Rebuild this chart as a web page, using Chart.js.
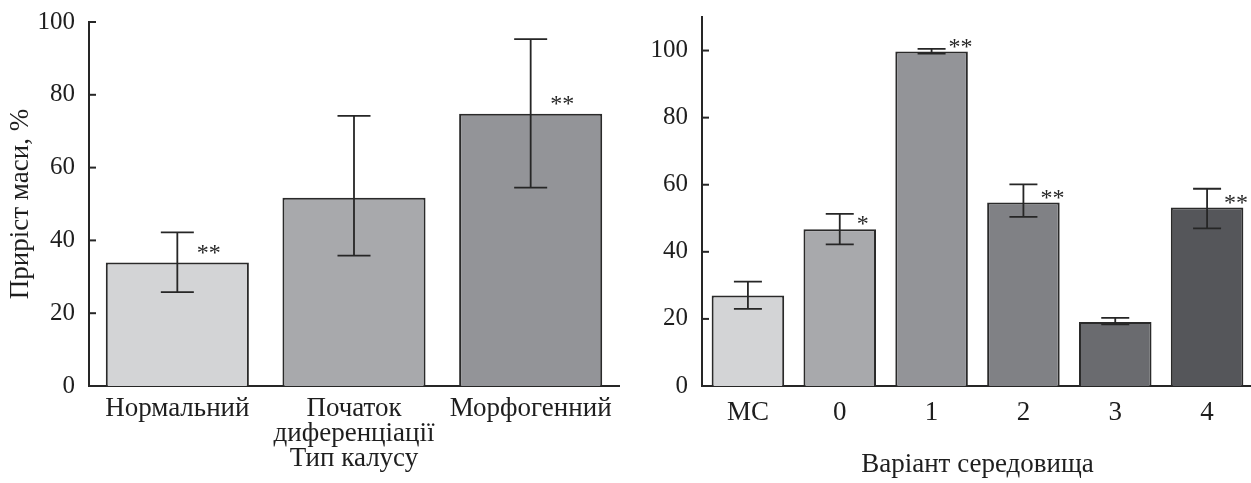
<!DOCTYPE html>
<html lang="uk">
<head>
<meta charset="utf-8">
<title>Приріст маси</title>
<script src="https://cdn.jsdelivr.net/npm/chart.js@4.4.1/dist/chart.umd.min.js"></script>
<style>
    html, body { margin: 0; padding: 0; background: #fff; overflow: hidden; }
    body { width: 1251px; height: 483px; position: relative; }
    .panel { position: absolute; top: 0; }
    #leftWrap { left: 0; width: 640px; height: 483px; }
    #rightWrap { left: 630px; width: 623px; height: 483px; }
</style>
</head>
<body>
<div class="panel" id="leftWrap"><canvas id="leftChart" width="640" height="483"></canvas></div>
<div class="panel" id="rightWrap"><canvas id="rightChart" width="623" height="483"></canvas></div>

<script>
// ================= DATA =================
// Left panel: callus type
const leftCategories = ['Нормальний', ['Початок', 'диференціації'], 'Морфогенний'];
const leftMeans = [33.9, 51.7, 74.8];
const leftErrLow = [25.8, 35.8, 54.5];
const leftErrHigh = [42.2, 74.2, 95.3];
const leftSig = ['**', '', '**'];
const leftColors = ['#d3d4d6', '#a8a9ac', '#939498'];

// Right panel: medium variant
const rightCategories = ['МС', '0', '1', '2', '3', '4'];
const rightMeans = [27.0, 46.7, 99.7, 54.7, 19.1, 53.2];
const rightErrLow = [23.0, 42.2, 99.1, 50.4, 18.4, 47.0];
const rightErrHigh = [31.1, 51.3, 100.5, 60.1, 20.3, 58.8];
const rightSig = ['', '*', '**', '**', '', '**'];
const rightColors = ['#d3d4d6', '#a8a9ac', '#939498', '#808185', '#6a6b6f', '#55565a'];

const yTicksLeft = [0, 20, 40, 60, 80, 100];
const yTicksRight = [0, 20, 40, 60, 80, 100];

const FONT = '"Liberation Serif", "DejaVu Serif", serif';
const INK = '#262626';

// ================= PLUGINS =================
// error bars + significance marks, drawn through the y scale
const errorBarPlugin = {
    id: 'errorBars',
    afterDatasetsDraw(chart, args, opts) {
        const ctx = chart.ctx;
        const yScale = chart.scales.y;
        const meta = chart.getDatasetMeta(0);
        ctx.save();
        ctx.strokeStyle = INK;
        ctx.lineWidth = 1.8;
        meta.data.forEach((bar, i) => {
            const x = bar.x;
            const yHi = yScale.getPixelForValue(opts.high[i]);
            const yLo = yScale.getPixelForValue(opts.low[i]);
            ctx.beginPath();
            ctx.moveTo(x, yHi); ctx.lineTo(x, yLo);
            ctx.moveTo(x - opts.cap, yHi); ctx.lineTo(x + opts.cap, yHi);
            ctx.moveTo(x - opts.cap, yLo); ctx.lineTo(x + opts.cap, yLo);
            ctx.stroke();

            if (opts.sig[i]) {
                ctx.fillStyle = INK;
                ctx.font = '24px ' + FONT;
                ctx.textAlign = 'left';
                ctx.textBaseline = 'alphabetic';
                ctx.fillText(opts.sig[i], x + opts.cap + 3, bar.y + opts.sigShift);
            }
        });
        ctx.restore();
    }
};

// short tick marks pointing into the plot area
const innerTickPlugin = {
    id: 'innerTicks',
    afterDraw(chart) {
        const ctx = chart.ctx;
        const yScale = chart.scales.y;
        ctx.save();
        ctx.strokeStyle = INK;
        ctx.lineWidth = 2;
        yScale.ticks.forEach(t => {
            const y = yScale.getPixelForValue(t.value);
            ctx.beginPath();
            ctx.moveTo(yScale.right, y);
            ctx.lineTo(yScale.right + 7, y);
            ctx.stroke();
        });
        ctx.restore();
    }
};

// ================= CHARTS =================
function makeChart(canvasId, cfg) {
    const ctx = document.getElementById(canvasId).getContext('2d');
    return new Chart(ctx, {
        type: 'bar',
        data: {
            labels: cfg.labels,
            datasets: [{
                data: cfg.values,
                backgroundColor: cfg.colors,
                borderColor: '#2a2a2a',
                borderWidth: 2,
                categoryPercentage: 1,
                barPercentage: cfg.barPct
            }]
        },
        options: {
            responsive: false,
            animation: false,
            layout: { padding: { top: cfg.top, right: cfg.right, left: 0, bottom: 0 } },
            plugins: {
                legend: { display: false },
                tooltip: { enabled: false },
                errorBars: {
                    low: cfg.low, high: cfg.high, sig: cfg.sig,
                    cap: cfg.cap, sigShift: cfg.sigShift
                }
            },
            scales: {
                x: {
                    grid: { display: false, drawTicks: false },
                    border: { color: INK, width: 2 },
                    ticks: {
                        color: '#1e1e1e',
                        font: { family: FONT, size: 27, lineHeight: 0.93 },
                        padding: cfg.xPad,
                        maxRotation: 0,
                        autoSkip: false
                    },
                    title: {
                        display: true,
                        text: cfg.xTitle,
                        color: '#1e1e1e',
                        font: { family: FONT, size: 27 },
                        padding: { top: 0, bottom: cfg.xTitlePad }
                    },
                    afterFit(scale) {
                        scale.height = 97;
                        scale.paddingLeft = 0;
                        scale.paddingRight = 0;
                    }
                },
                y: {
                    min: 0,
                    max: cfg.yMax,
                    grid: { display: false, drawTicks: false },
                    border: { color: INK, width: 2 },
                    ticks: {
                        stepSize: 20,
                        color: '#1e1e1e',
                        font: { family: FONT, size: 25 },
                        padding: 14
                    },
                    afterBuildTicks(scale) {
                        scale.ticks = cfg.yTicks.map(v => ({ value: v }));
                    },
                    title: {
                        display: !!cfg.yTitle,
                        text: cfg.yTitle,
                        color: '#1e1e1e',
                        font: { family: FONT, size: 27 },
                        padding: { top: 5, bottom: 0 }
                    },
                    afterFit(scale) {
                        scale.width = cfg.yWidth;
                        scale.paddingTop = 0;
                        scale.paddingBottom = 0;
                    }
                }
            }
        },
        plugins: [errorBarPlugin, innerTickPlugin]
    });
}

function init() {
    makeChart('leftChart', {
        labels: leftCategories,
        values: leftMeans,
        colors: leftColors,
        low: leftErrLow,
        high: leftErrHigh,
        sig: leftSig,
        barPct: 0.81,
        cap: 16.5,
        sigShift: -3,
        top: 22,
        right: 21,
        yMax: 100,
        yTicks: yTicksLeft,
        yWidth: 89,
        yTitle: 'Приріст маси, %',
        xTitle: 'Тип калусу',
        xPad: 10,
        xTitlePad: 8
    });

    makeChart('rightChart', {
        labels: rightCategories,
        values: rightMeans,
        colors: rightColors,
        low: rightErrLow,
        high: rightErrHigh,
        sig: rightSig,
        barPct: 0.79,
        cap: 14,
        sigShift: 2,
        top: 17,
        right: 0,
        yMax: 110,
        yTicks: yTicksRight,
        yWidth: 72,
        yTitle: '',
        xTitle: 'Варіант середовища',
        xPad: 14,
        xTitlePad: 2
    });
}

window.addEventListener('DOMContentLoaded', init);
</script>
</body>
</html>
